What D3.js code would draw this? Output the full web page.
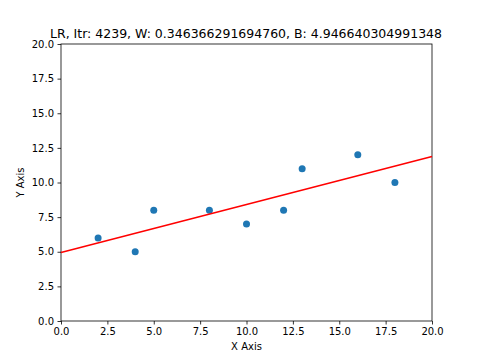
<!DOCTYPE html>
<html>
<head>
<meta charset="utf-8">
<script src="https://cdn.jsdelivr.net/npm/d3@7"></script>
<style>
  body { margin: 0; background: #fff; }
  svg { font-family: "DejaVu Sans", sans-serif; }
</style>
</head>
<body>
<div id="myPlot"></div>
<script>
// Set Dimensions
const xSize = 480;
const ySize = 360;
const xLeft = 61, yTop = 44, xRight = 432, yBottom = 321;

// data
const xs = [2, 4, 5, 8, 10, 12, 13, 16, 18];
const ys = [6, 5, 8, 8, 7, 8, 11, 12, 10];
const W = 0.346366291694760;
const B = 4.946640304991348;
const itr = 4239;
const xTicks = [0, 2.5, 5, 7.5, 10, 12.5, 15, 17.5, 20];
const yTicks = [0, 2.5, 5, 7.5, 10, 12.5, 15, 17.5, 20];

const svg = d3.select("#myPlot")
  .append("svg")
  .attr("width", xSize)
  .attr("height", ySize);

const x = d3.scaleLinear().domain([0, 20]).range([xLeft, xRight]);
const y = d3.scaleLinear().domain([0, 20]).range([yBottom, yTop]);

// X Axis
const gx = svg.append("g")
  .attr("transform", "translate(0," + yBottom + ")")
  .call(d3.axisBottom(x).tickValues(xTicks).tickFormat(d3.format(".1f")).tickSize(3.5).tickPadding(3.5));

// Y Axis
const gy = svg.append("g")
  .attr("transform", "translate(" + xLeft + ",0)")
  .call(d3.axisLeft(y).tickValues(yTicks).tickFormat(d3.format(".1f")).tickSize(3.5).tickPadding(3.5));

[gx, gy].forEach(g => {
  g.select(".domain").remove();
  g.selectAll("text").attr("font-size", 10).attr("font-family", "DejaVu Sans").attr("fill", "#000");
  g.selectAll("line").attr("stroke", "#000").attr("stroke-width", 0.8);
});

// frame
svg.append("rect")
  .attr("x", xLeft).attr("y", yTop)
  .attr("width", xRight - xLeft).attr("height", yBottom - yTop)
  .attr("fill", "none").attr("stroke", "#000").attr("stroke-width", 0.8);

// Dots
svg.append("g")
  .selectAll("circle")
  .data(xs).enter()
  .append("circle")
  .attr("cx", (d, i) => x(d))
  .attr("cy", (d, i) => y(ys[i]))
  .attr("r", 3.5)
  .style("fill", "#1f77b4");

// regression line
const lx = [0, 20];
svg.append("path")
  .datum(lx)
  .attr("d", d3.line().x(d => x(d)).y(d => y(W * d + B)))
  .attr("stroke", "#ff0000")
  .attr("stroke-width", 1.5)
  .attr("fill", "none");

// labels
svg.append("text")
  .attr("x", (xLeft + xRight) / 2 - 0.5).attr("y", yTop - 6)
  .attr("text-anchor", "middle").attr("font-size", 12.5)
  .text("LR, Itr: " + itr + ", W: 0.346366291694760, B: 4.946640304991348");

svg.append("text")
  .attr("x", (xLeft + xRight) / 2).attr("y", 350)
  .attr("text-anchor", "middle").attr("font-size", 10)
  .text("X Axis");

svg.append("text")
  .attr("transform", "translate(24," + (yTop + yBottom) / 2 + ") rotate(-90)")
  .attr("text-anchor", "middle").attr("font-size", 10)
  .text("Y Axis");
</script>
</body>
</html>
